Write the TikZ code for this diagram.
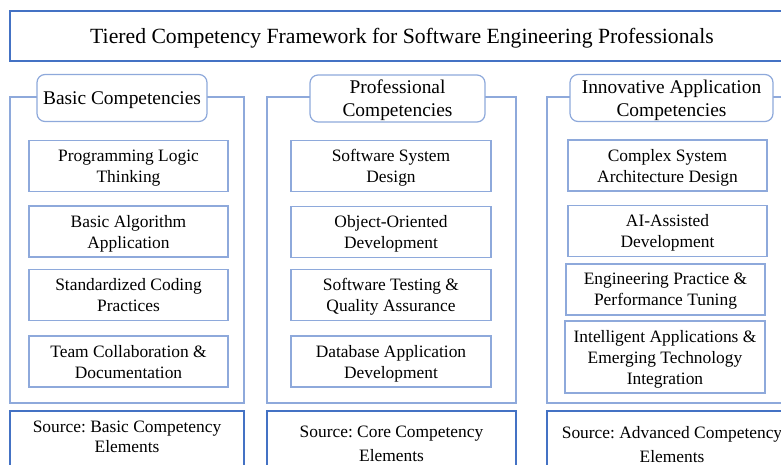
\documentclass[tikz,border=0pt]{standalone}
\usepackage{fontspec}
\setmainfont{Liberation Serif}
\usetikzlibrary{shapes}
\frenchspacing

\definecolor{bleu}{HTML}{4472C4}
\definecolor{bleuclair}{HTML}{8EA9DB}

\tikzset{
titre/.style={draw=bleu, line width=2.2pt, minimum width=784pt, minimum height=50pt,
  text depth=0pt, font=\fontsize{21.7}{26}\selectfont},
entete/.style={draw=bleuclair, line width=1.2pt, fill=white, rounded corners=8pt,
  align=center, inner sep=0pt, minimum height=47pt, text depth=0pt,
  font=\fontsize{19.4}{23.3}\selectfont},
bloc/.style={draw=bleuclair, line width=1.1pt, align=center, inner sep=0pt,
  minimum width=199pt, minimum height=51pt, text depth=0pt,
  font=\fontsize{17.4}{21}\selectfont},
cadre/.style={draw=bleuclair, line width=1.1pt},
source/.style={draw=bleu, line width=1.8pt},
srctexte/.style={align=center, inner sep=0pt, font=\fontsize{17.4}{20}\selectfont}
}

\begin{document}
\begin{tikzpicture}[x=1pt,y=-1pt]
\useasboundingbox (0,0) rectangle (781,464);
\clip (0,0) rectangle (781,464);

\node[titre] (titre) at (402,36)
{Tiered Competency Framework for Software Engineering Professionals};

% les trois colonnes
\foreach \gauche/\droite in {10/244, 267/516, 547/796}
{
\draw[cadre] (\gauche,97) rectangle (\droite,403);
\draw[source] (\gauche,411) rectangle (\droite,480);
}

\node[entete, minimum width=170pt] (base) at (122,98) {Basic Competencies};
\node[entete, minimum width=175pt] (pro) at (397.5,98.5) {Professional\\Competencies};
\node[entete, minimum width=203pt] (innov) at (671.5,98) {Innovative Application\\Competencies};

% colonne 1
\node[bloc] (b1) at (128.5,166) {Programming Logic\\Thinking};
\node[bloc] (b2) at (128.5,231.5) {Basic Algorithm\\Application};
\node[bloc] (b3) at (128.5,295) {Standardized Coding\\Practices};
\node[bloc] (b4) at (128.5,361.5) {Team Collaboration \&\\Documentation};
% colonne 2
\node[bloc, minimum width=200pt] (p1) at (391,166) {Software System\\Design};
\node[bloc, minimum width=200pt] (p2) at (391,232) {Object-Oriented\\Development};
\node[bloc, minimum width=200pt] (p3) at (391,295) {Software Testing \&\\Quality Assurance};
\node[bloc, minimum width=200pt] (p4) at (391,361.5) {Database Application\\Development};
% colonne 3
\node[bloc] (i1) at (667.5,165.5) {Complex System\\Architecture Design};
\node[bloc] (i2) at (667.5,231) {AI-Assisted\\Development};
\node[bloc] (i3) at (665.5,289.5) {Engineering Practice \&\\Performance Tuning};
\node[bloc, minimum width=200pt, minimum height=72pt] (i4) at (665,357)
{Intelligent Applications \&\\Emerging Technology\\Integration};

\node[srctexte] (src-base) at (127,437) {Source: Basic Competency\\Elements};
\node[srctexte] (src-pro) at (391.5,444) {Source: Core Competency\\[4pt]Elements};
\node[srctexte] (src-innov) at (672,445) {Source: Advanced Competency\\[4pt]Elements};
\end{tikzpicture}
\end{document}
